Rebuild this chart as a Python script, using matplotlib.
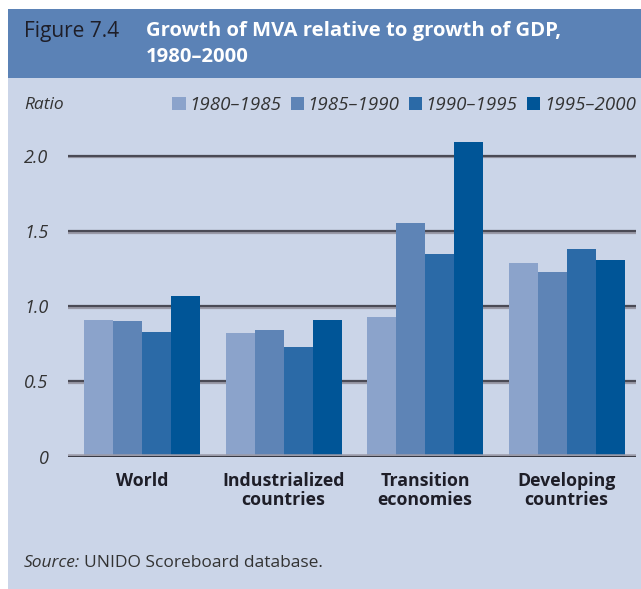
import numpy as np
import matplotlib
matplotlib.use('Agg')
import matplotlib.pyplot as plt
from matplotlib.patches import Rectangle
import matplotlib.patheffects as pe

plt.rcParams['font.family'] = ['Open Sans', 'DejaVu Sans']

# Data
groups = ['World', 'Industrialized\ncountries', 'Transition\neconomies', 'Developing\ncountries']
periods = ['1980–1985', '1985–1990', '1990–1995', '1995–2000']
p1980 = [0.91, 0.82, 0.93, 1.29]
p1985 = [0.90, 0.84, 1.55, 1.23]
p1990 = [0.83, 0.73, 1.35, 1.38]
p1995 = [1.07, 0.91, 2.09, 1.31]
yticks = [0, 0.5, 1.0, 1.5, 2.0]
ytick_labels = ['0', '0.5', '1.0', '1.5', '2.0']

colors = ['#8ba3cb', '#5e84b6', '#2b6aa7', '#005597']
panel = '#cbd5e8'
header = '#5b82b6'

W, H = 641, 589
fig = plt.figure(figsize=(W / 100, H / 100), dpi=100)
fig.patch.set_facecolor('white')

# background panel and header band
fig.patches.append(Rectangle((8 / W, 0), 1 - 8 / W, 1 - 9 / H, transform=fig.transFigure,
                             facecolor=panel, edgecolor='none', zorder=-2))
fig.patches.append(Rectangle((8 / W, 1 - 78 / H), 1 - 8 / W, 69 / H, transform=fig.transFigure,
                             facecolor=header, edgecolor='none', zorder=-1))

fig.text(24 / W, 1 - 31 / H, 'Figure 7.4', fontsize=15, color='#1e1e28', va='center')
fig.text(146 / W, 1 - 31 / H, 'Growth of MVA relative to growth of GDP,', fontsize=14.6,
         color='white', fontweight='bold', va='center')
fig.text(146 / W, 1 - 57 / H, '1980–2000', fontsize=14.6, color='white', fontweight='bold', va='center')

fig.text(24 / W, 1 - 105 / H, 'Ratio', fontsize=12.5, style='italic', color='#333333', va='center')

# source line: italic "Source:" followed by upright text
src = fig.text(24 / W, 1 - 567 / H, 'Source:', fontsize=12.5, style='italic', color='#333333',
               va='baseline')
fig.canvas.draw()
bb = src.get_window_extent()
fig.text((bb.x1 + 4) / W, 1 - 567 / H, 'UNIDO Scoreboard database.', fontsize=12.5, color='#333333',
         va='baseline')

# axes
y0 = 456.7
unit = 150.5
ymax = 2.2
top_px = y0 - ymax * unit
ax = fig.add_axes([68 / W, 1 - y0 / H, (636 - 68) / W, (y0 - top_px) / H])
ax.set_facecolor('none')

x = np.arange(len(groups))
bw = 0.205
series = [p1980, p1985, p1990, p1995]
for i, (vals, c, lab) in enumerate(zip(series, colors, periods)):
    ax.bar(x + (i - 1.5) * bw, vals, width=bw, color=c, label=lab, zorder=3)

# gridlines with a light shadow underneath
for yv in yticks[1:]:
    ax.axhline(yv, color='#4a4a55', lw=1.6, zorder=1,
               path_effects=[pe.SimpleLineShadow(offset=(0, -1.2), shadow_color='#9a9aa8', alpha=1),
                             pe.Normal()])
ax.axhline(0, color='#1a1a22', lw=1.8, zorder=4,
           path_effects=[pe.SimpleLineShadow(offset=(0, 1.2), shadow_color='#9a9aa8', alpha=1),
                         pe.Normal()])

ax.set_xlim(-0.523, 3.49)
ax.set_ylim(0, ymax)
ax.set_yticks(yticks)
ax.set_yticklabels(ytick_labels, fontsize=13, style='italic', color='#333333')
ax.set_xticks(x)
ax.set_xticklabels(groups, fontsize=12.8, fontweight='bold', color='#1e1e28', linespacing=1.1)
ax.tick_params(axis='y', length=0, pad=14)
ax.tick_params(axis='x', length=0, pad=11)
for s in ax.spines.values():
    s.set_visible(False)

fig.legend(loc='center right', bbox_to_anchor=(636 / W, 1 - 105 / H), ncol=4, frameon=False,
           handlelength=0.7, handleheight=0.7, handletextpad=0.2, columnspacing=0.5,
           borderaxespad=0, borderpad=0, prop={'size': 13.5, 'style': 'italic'}, labelcolor='#333333')

fig.savefig('out.png', dpi=100, facecolor=fig.get_facecolor())
